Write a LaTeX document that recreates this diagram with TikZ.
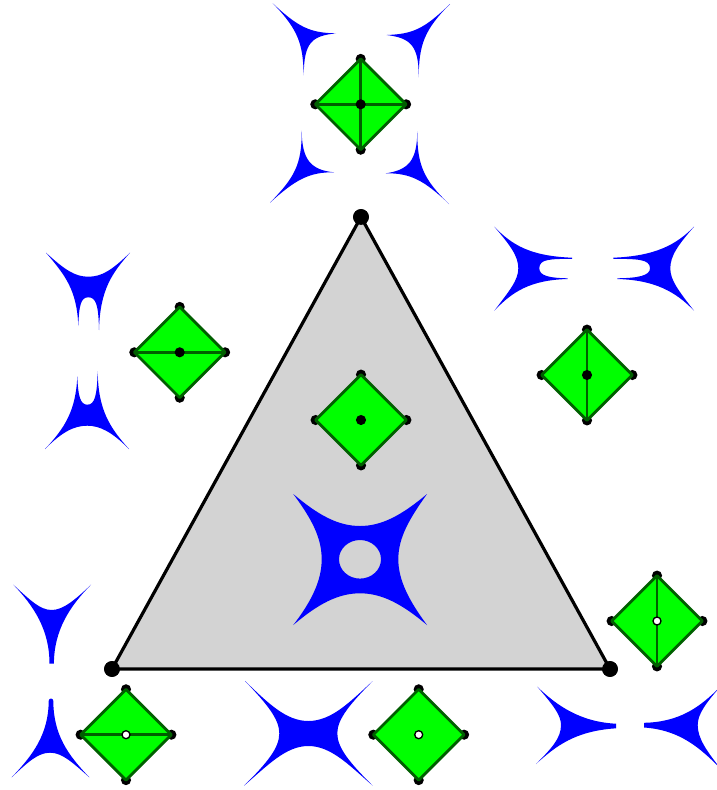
\documentclass[tikz,border=0pt]{standalone}
\definecolor{gem}{RGB}{0,255,0}
\definecolor{gemedge}{RGB}{0,95,0}
\definecolor{tri}{RGB}{211,211,211}
\tikzset{
  cuspfill/.style={fill=blue,draw=none,even odd rule},
  gemface/.style={fill=gem,draw=gemedge,line width=2.1pt,line join=round},
  gemline/.style={draw=gemedge,line width=2.1pt},
  gemdot/.style={circle,fill=black,inner sep=0pt,minimum size=7.6pt},
  whitedot/.style={circle,fill=white,draw=black,line width=1pt,inner sep=0pt,minimum size=6pt},
  cornerdot/.style={circle,fill=black,inner sep=0pt,minimum size=11.8pt},
  trianglebody/.style={fill=tri,draw=black,line width=2.4pt,line join=round}
}
% #1 name, #2 cx, #3 cy, #4 centre style, #5 extra lines
\newcommand{\gemdiamond}[5]{%
  \node[gemdot] (#1N) at (#2,#3-45.4) {};
  \node[gemdot] (#1S) at (#2,#3+45.4) {};
  \node[gemdot] (#1W) at (#2-45.4,#3) {};
  \node[gemdot] (#1E) at (#2+45.4,#3) {};
  \draw[gemface] (#1N.center) -- (#1E.center) -- (#1S.center) -- (#1W.center) -- cycle;
  #5
  \node[#4] (#1C) at (#2,#3) {};
}
\newcommand{\gemh}[1]{\draw[gemline] (#1W.center) -- (#1E.center);}
\newcommand{\gemv}[1]{\draw[gemline] (#1N.center) -- (#1S.center);}
\begin{document}
\begin{tikzpicture}[x=0.75pt,y=-0.75pt]
\useasboundingbox (0,0) rectangle (717,790);
\fill[white] (0,0) rectangle (717,790);
\clip (0,0) rectangle (717,790);
% triangle
\node[cornerdot] (v1) at (361,217) {};
\node[cornerdot] (v2) at (112,669) {};
\node[cornerdot] (v3) at (610,669) {};
\draw[trianglebody] (v1.center) -- (v2.center) -- (v3.center) -- cycle;
\node[cornerdot] (d1) at (v1) {};
\node[cornerdot] (d2) at (v2) {};
\node[cornerdot] (d3) at (v3) {};
% central blue shape with hole
\path[cuspfill] (293.3,494) .. controls (318,515) and (338,526) .. (360,526)
  .. controls (382,526) and (402,515) .. (427,494)
  .. controls (410,518) and (398.3,537) .. (398.3,559.3)
  .. controls (398.3,581) and (410,602) .. (427,625)
  .. controls (402,604) and (382,593.3) .. (360,593.3)
  .. controls (338,593.3) and (318,604) .. (293.3,625)
  .. controls (311,602) and (321.7,581) .. (321.7,559.3)
  .. controls (321.7,537) and (311,518) .. (293.3,494) -- cycle
  (360,559.3) ellipse [x radius=21,y radius=19.3];
% bottom X
\path[cuspfill] (245,681) .. controls (268,703) and (286,721) .. (308.3,721)
  .. controls (331,721) and (349,703) .. (372.7,681)
  .. controls (350,704) and (337.3,719) .. (337.3,733.3)
  .. controls (337.3,748) and (350,763) .. (372.7,785.7)
  .. controls (349,765) and (331,746) .. (308.3,746)
  .. controls (286,746) and (268,765) .. (244,785.7)
  .. controls (267,763) and (279.3,748) .. (279.3,733.3)
  .. controls (279.3,719) and (267,704) .. (245,681) -- cycle;
% top four cusps
\path[cuspfill] (272.7,3.3) .. controls (298,27) and (310,33) .. (336,33.3)
  .. controls (312,36) and (304,42) .. (303.7,75.3)
  .. controls (303,45) and (299,30) .. (272.7,3.3) -- cycle;
\path[cuspfill] (450,4) .. controls (424,29) and (413,34) .. (386.7,35)
  .. controls (410,38) and (419,45) .. (418.7,77.3)
  .. controls (419,45) and (424,30) .. (450,4) -- cycle;
\path[cuspfill] (270,202.7) .. controls (294,178) and (302,165) .. (301.7,130.7)
  .. controls (302,160) and (311,170) .. (334,172.3)
  .. controls (310,172) and (296,179) .. (270,202.7) -- cycle;
\path[cuspfill] (449,204) .. controls (424,180) and (417,165) .. (417.3,131.3)
  .. controls (417,160) and (409,170) .. (385.7,173.3)
  .. controls (410,173) and (424,180) .. (449,204) -- cycle;
% left pair with slits
\path[cuspfill] (46,252.7) .. controls (65,270) and (75,276.7) .. (88.3,276.7)
  .. controls (102,276.7) and (112,270) .. (130,252.7)
  .. controls (112,273) and (100,290) .. (99,330)
  .. controls (98.5,305) and (96,297.3) .. (88.3,297.3)
  .. controls (81,297.3) and (79,305) .. (78.3,326)
  .. controls (77,290) and (65,275) .. (46,252.7) -- cycle;
\path[cuspfill] (45,449) .. controls (62,432) and (74,425.7) .. (87.3,425.7)
  .. controls (100,425.7) and (112,432) .. (129,449)
  .. controls (110,428) and (98,410) .. (97.7,371)
  .. controls (97,395) and (95,404.7) .. (87.3,404.7)
  .. controls (80,404.7) and (78,395) .. (77.3,376)
  .. controls (76,410) and (65,428) .. (45,449) -- cycle;
% right pair with slits
\path[cuspfill] (494.3,226.7) .. controls (512,245) and (530,256) .. (572,257.7)
  -- (572,258.8) .. controls (550,259) and (539.3,259) .. (539.3,268.3)
  .. controls (539.3,276) and (550,278) .. (567.7,278.3)
  -- (567.7,279) .. controls (530,280) and (512,292) .. (494.3,310.7)
  .. controls (510,290) and (518.3,280) .. (518.3,268.3)
  .. controls (518.3,256) and (510,245) .. (494.3,226.7) -- cycle;
\path[cuspfill] (694,226.7) .. controls (676,245) and (655,256) .. (613.3,257.7)
  -- (613.3,258.8) .. controls (637,259) and (650,259) .. (650,268.3)
  .. controls (650,276) and (637,278) .. (617.3,278.3)
  -- (617.3,279) .. controls (655,280) and (676,292) .. (694,310.7)
  .. controls (678,290) and (670.3,280) .. (670.3,268.3)
  .. controls (670.3,256) and (678,245) .. (694,226.7) -- cycle;
% lower left pair
\path[cuspfill] (13.3,584.7) .. controls (30,600) and (40,610) .. (51.7,610)
  .. controls (63,610) and (75,600) .. (91,584.7)
  .. controls (70,606) and (54,630) .. (53.9,663.7)
  -- (49.5,663.7) .. controls (49.5,630) and (34,606) .. (13.3,584.7) -- cycle;
\path[cuspfill] (11.7,777.3) .. controls (28,762) and (38,752.7) .. (50,752.7)
  .. controls (62,752.7) and (72,762) .. (89.3,777.3)
  .. controls (68,755) and (53.5,735) .. (53.3,701)
  .. controls (53.3,697.7) and (48.7,697.7) .. (48.7,701)
  .. controls (48.5,735) and (32,756) .. (11.7,777.3) -- cycle;
% lower right pair
\path[cuspfill] (537.3,686.7) .. controls (553,705) and (561,715) .. (561,725)
  .. controls (561,738) and (552,748) .. (536,764)
  .. controls (556,746) and (575,731) .. (616,728.3)
  -- (616,723.7) .. controls (580,722) and (556,705) .. (537.3,686.7) -- cycle;
\path[cuspfill] (720,687) .. controls (706,703) and (697.7,714) .. (697.7,725)
  .. controls (697.7,738) and (706,750) .. (720,768)
  .. controls (700,748) and (680,730) .. (644,727.5)
  -- (644,722.8) .. controls (680,722) and (700,707) .. (720,687) -- cycle;
% diamonds
\gemdiamond{top}{360.7}{104.3}{gemdot}{\gemh{top}\gemv{top}}
\gemdiamond{lef}{179.7}{352.3}{gemdot}{\gemh{lef}}
\gemdiamond{rig}{587}{375}{gemdot}{\gemv{rig}}
\gemdiamond{mid}{361}{420}{gemdot}{}
\gemdiamond{rbt}{657}{621}{whitedot}{\gemv{rbt}}
\gemdiamond{lbt}{126}{734.7}{whitedot}{\gemh{lbt}}
\gemdiamond{bot}{418.7}{734.7}{whitedot}{}
\end{tikzpicture}
\end{document}
